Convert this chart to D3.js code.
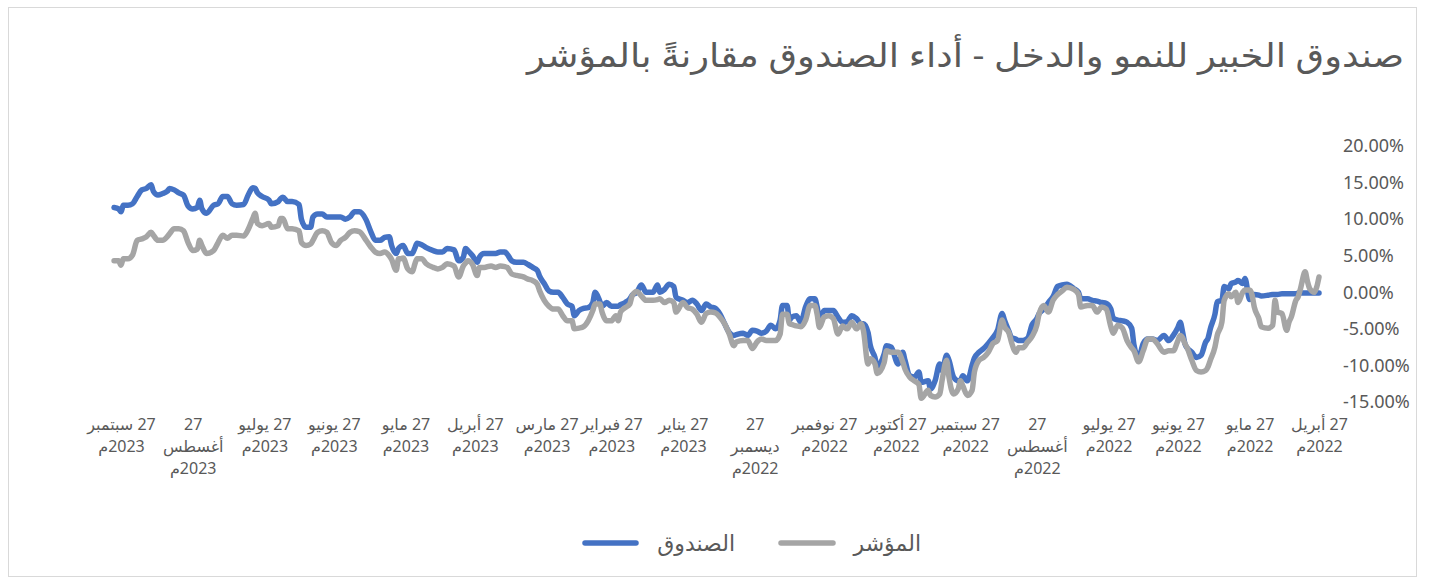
<!DOCTYPE html>
<html>
<head>
<meta charset="utf-8">
<script src="https://cdn.jsdelivr.net/npm/d3@7"></script>
<style>
  body { margin: 0; background: #fff; }
  text { font-family: "Noto Sans", "DejaVu Sans", sans-serif; fill: #595959; }
</style>
</head>
<body>
<div id="chart"></div>
<script>
// title and series names
var title = "صندوق الخبير للنمو والدخل - أداء الصندوق مقارنةً بالمؤشر";
var fundName = "الصندوق";
var indexName = "المؤشر";

// dates of the readings
var dates = [
  "2022-04-27","2022-04-28","2022-04-29","2022-05-01","2022-05-02","2022-05-03","2022-05-05","2022-05-06","2022-05-07","2022-05-09",
  "2022-05-10","2022-05-11","2022-05-13","2022-05-15","2022-05-16","2022-05-17","2022-05-19","2022-05-22","2022-05-23","2022-05-25",
  "2022-05-26","2022-05-27","2022-05-29","2022-05-30","2022-06-01","2022-06-02","2022-06-04","2022-06-05","2022-06-07","2022-06-08",
  "2022-06-10","2022-06-11","2022-06-13","2022-06-14","2022-06-15","2022-06-17","2022-06-19","2022-06-21","2022-06-23","2022-06-24",
  "2022-06-25","2022-06-26","2022-06-27","2022-06-29","2022-07-01","2022-07-03","2022-07-06","2022-07-08","2022-07-10","2022-07-12",
  "2022-07-14","2022-07-16","2022-07-17","2022-07-19","2022-07-21","2022-07-23","2022-07-25","2022-07-26","2022-07-28","2022-07-30",
  "2022-08-01","2022-08-03","2022-08-05","2022-08-08","2022-08-09","2022-08-11","2022-08-14","2022-08-16","2022-08-18","2022-08-20",
  "2022-08-22","2022-08-24","2022-08-26","2022-08-27","2022-08-29","2022-08-31","2022-09-02","2022-09-04","2022-09-05","2022-09-07",
  "2022-09-08","2022-09-10","2022-09-11","2022-09-13","2022-09-15","2022-09-17","2022-09-19","2022-09-21","2022-09-23","2022-09-24",
  "2022-09-26","2022-09-28","2022-09-29","2022-09-30","2022-10-02","2022-10-04","2022-10-05","2022-10-07","2022-10-08","2022-10-10",
  "2022-10-12","2022-10-13","2022-10-16","2022-10-17","2022-10-19","2022-10-21","2022-10-23","2022-10-24","2022-10-26","2022-10-29",
  "2022-10-31","2022-11-01","2022-11-04","2022-11-05","2022-11-07","2022-11-08","2022-11-10","2022-11-11","2022-11-13","2022-11-15",
  "2022-11-17","2022-11-19","2022-11-21","2022-11-23","2022-11-25","2022-11-27","2022-11-29","2022-11-30","2022-12-01","2022-12-03",
  "2022-12-05","2022-12-07","2022-12-09","2022-12-11","2022-12-12","2022-12-13","2022-12-15","2022-12-16","2022-12-18","2022-12-20",
  "2022-12-22","2022-12-24","2022-12-26","2022-12-28","2022-12-30","2023-01-01","2023-01-04","2023-01-05","2023-01-07","2023-01-09",
  "2023-01-11","2023-01-13","2023-01-15","2023-01-17","2023-01-19","2023-01-21","2023-01-23","2023-01-25","2023-01-27","2023-01-30",
  "2023-01-31","2023-02-02","2023-02-04","2023-02-06","2023-02-07","2023-02-09","2023-02-12","2023-02-14","2023-02-16","2023-02-18",
  "2023-02-19","2023-02-21","2023-02-23","2023-02-24","2023-02-25","2023-02-27","2023-03-01","2023-03-03","2023-03-04","2023-03-06",
  "2023-03-07","2023-03-09","2023-03-11","2023-03-13","2023-03-15","2023-03-16","2023-03-18","2023-03-20","2023-03-22","2023-03-24",
  "2023-03-26","2023-03-28","2023-03-30","2023-03-31","2023-04-02","2023-04-04","2023-04-06","2023-04-09","2023-04-11","2023-04-13",
  "2023-04-14","2023-04-16","2023-04-18","2023-04-20","2023-04-23","2023-04-25","2023-04-26","2023-04-28","2023-04-30","2023-05-01",
  "2023-05-02","2023-05-04","2023-05-06","2023-05-09","2023-05-11","2023-05-13","2023-05-15","2023-05-18","2023-05-20","2023-05-22",
  "2023-05-23","2023-05-24","2023-05-26","2023-05-28","2023-05-29","2023-05-30","2023-05-31","2023-06-02","2023-06-03","2023-06-05",
  "2023-06-07","2023-06-09","2023-06-11","2023-06-13","2023-06-16","2023-06-18","2023-06-20","2023-06-22","2023-06-24","2023-06-26",
  "2023-06-28","2023-06-30","2023-07-02","2023-07-04","2023-07-06","2023-07-07","2023-07-09","2023-07-11","2023-07-12","2023-07-15",
  "2023-07-17","2023-07-19","2023-07-20","2023-07-21","2023-07-24","2023-07-25","2023-07-28","2023-07-30","2023-07-31","2023-08-01",
  "2023-08-03","2023-08-05","2023-08-08","2023-08-10","2023-08-12","2023-08-14","2023-08-16","2023-08-18","2023-08-21","2023-08-23",
  "2023-08-24","2023-08-25","2023-08-27","2023-08-29","2023-08-31","2023-09-02","2023-09-04","2023-09-06","2023-09-07","2023-09-09",
  "2023-09-11","2023-09-13","2023-09-14","2023-09-16","2023-09-18","2023-09-20","2023-09-22","2023-09-24","2023-09-26","2023-09-27",
  "2023-09-28","2023-09-30"
];

// fund cumulative return, %
var fund = [
  -0.1,-0.1,-0.1,-0.1,-0.1,-0.1,-0.1,-0.1,-0.2,-0.2,
  -0.2,-0.2,-0.2,-0.3,-0.3,-0.3,-0.4,-0.5,-0.4,-0.3,
  -0.5,-1.0,1.9,1.2,1.6,1.4,1.2,0.5,0.8,-1.1,
  -1.3,-3.0,-5.0,-6.3,-6.8,-8.6,-8.9,-8.2,-7.6,-7.0,
  -5.4,-4.1,-4.8,-5.9,-6.6,-5.9,-6.6,-6.4,-6.4,-7.0,
  -8.9,-7.2,-4.9,-4.1,-3.9,-3.8,-3.5,-2.3,-1.5,-1.4,
  -1.2,-1.1,-0.9,-0.9,0.0,0.5,1.1,1.0,0.8,-0.6,
  -1.4,-2.3,-2.9,-3.6,-4.4,-6.3,-6.6,-6.6,-6.4,-6.2,
  -5.4,-3.8,-2.9,-5.2,-6.2,-7.0,-7.7,-8.2,-9.0,-10.0,
  -12.1,-11.4,-12.0,-12.1,-11.6,-9.3,-8.6,-10.7,-9.8,-12.1,
  -13.2,-12.1,-12.3,-10.9,-11.6,-11.4,-9.3,-8.2,-9.8,-7.5,
  -7.3,-8.4,-10.2,-8.9,-7.3,-5.5,-4.3,-4.3,-3.6,-3.2,
  -4.0,-4.1,-3.4,-2.5,-2.5,-2.5,-3.8,-2.0,-0.9,-0.9,
  -2.0,-4.1,-3.2,-3.4,-3.8,-1.8,-1.8,-3.8,-5.0,-4.5,
  -5.3,-5.6,-5.3,-5.2,-5.9,-5.6,-5.8,-5.9,-5.5,-4.3,
  -3.0,-2.2,-2.0,-1.6,-2.5,-1.6,-1.1,-1.4,-1.1,-0.7,
  0.8,1.1,0.4,0.0,1.0,0.0,0.0,1.0,0.0,-0.4,
  -0.9,-1.4,-1.7,-1.9,-1.9,-1.9,-1.4,-1.9,-1.2,0.0,
  -1.4,-2.1,-2.2,-2.5,-3.2,-1.9,-1.6,-0.7,0.0,0.0,
  0.2,1.2,2.2,3.0,3.4,3.8,4.1,4.1,4.3,5.2,
  5.5,5.5,5.3,5.3,5.3,4.8,4.1,5.0,5.7,6.0,
  4.8,4.3,5.8,6.0,5.5,5.5,5.7,6.1,6.5,6.7,
  6.0,5.3,5.3,6.4,6.3,6.0,5.3,6.4,7.6,7.5,
  7.1,7.1,8.3,9.9,11.0,11.0,10.3,10.0,10.3,10.3,
  10.3,10.3,10.7,10.7,10.3,8.9,8.9,10.0,12.0,12.4,
  12.4,13.0,12.8,12.4,12.1,12.6,13.1,13.6,14.2,14.3,
  13.3,12.0,11.9,12.1,13.1,13.1,12.1,11.9,10.8,11.4,
  12.6,11.6,11.4,11.8,13.3,13.6,14.0,14.2,13.8,13.5,
  13.3,13.8,14.7,14.2,14.0,13.1,12.1,11.9,11.9,11.0,
  11.4,11.6
];

// index cumulative return, %
var index = [
  2.1,0.7,0.0,0.5,1.5,2.8,0.5,-0.6,-1.1,-3.4,
  -4.1,-5.2,-2.9,-2.7,-1.1,-4.5,-4.9,-4.7,-3.6,-2.0,
  -0.3,0.3,0.3,0.0,-1.4,0.0,-0.6,-0.2,-1.1,-4.1,
  -5.9,-7.5,-9.3,-10.2,-10.7,-10.9,-10.7,-9.3,-7.6,-7.0,
  -6.2,-5.9,-6.6,-8.0,-8.0,-8.2,-7.0,-6.4,-6.4,-8.0,
  -9.5,-8.0,-7.6,-6.6,-4.9,-4.5,-5.6,-4.7,-2.3,-2.0,
  -2.7,-1.8,-1.8,-2.0,-0.3,0.4,0.7,0.2,-0.3,-1.1,
  -2.7,-1.8,-2.9,-4.5,-6.0,-6.8,-7.6,-7.6,-8.2,-6.8,
  -5.6,-4.7,-3.8,-6.6,-7.0,-8.2,-8.9,-9.3,-10.9,-13.4,
  -14.1,-12.8,-12.1,-13.2,-13.9,-11.6,-9.3,-12.1,-13.9,-14.3,
  -14.1,-13.4,-14.5,-12.6,-12.1,-11.6,-10.5,-9.5,-8.2,-8.2,
  -8.0,-9.6,-11.1,-9.8,-9.1,-9.8,-5.2,-4.3,-5.0,-4.1,
  -5.0,-4.6,-5.7,-3.6,-3.2,-3.4,-4.8,-3.0,-1.8,-1.8,
  -3.8,-4.7,-4.6,-4.4,-4.3,-3.0,-3.0,-5.7,-6.6,-6.6,
  -6.6,-6.4,-6.8,-7.7,-6.6,-6.6,-6.8,-7.3,-5.7,-4.3,
  -3.4,-2.8,-2.7,-2.9,-4.1,-3.0,-2.3,-2.1,-1.4,-2.7,
  -1.4,-1.1,-1.4,-0.9,-1.0,-1.1,-1.1,-0.5,0.1,-0.5,
  -1.6,-2.1,-2.7,-3.9,-3.2,-3.9,-3.9,-2.7,-1.6,-1.6,
  -2.5,-3.9,-4.7,-4.9,-5.0,-3.9,-3.9,-3.2,-2.3,-2.3,
  -1.9,-1.1,0.2,1.1,1.6,1.8,2.1,2.3,2.5,3.4,
  3.5,3.6,3.4,3.6,3.4,3.4,2.3,3.8,4.3,4.0,
  3.6,2.1,3.6,3.9,3.4,3.2,3.4,3.9,4.6,4.6,
  3.8,2.8,3.2,4.7,4.6,4.6,3.0,4.5,5.0,5.5,
  5.3,5.5,6.2,7.1,8.3,8.4,8.2,7.5,7.1,6.4,
  6.8,8.2,8.4,8.2,7.1,6.6,6.4,6.8,8.4,8.7,
  8.7,10.1,10.1,9.1,8.9,9.4,9.1,9.4,10.8,10.1,
  8.6,7.7,7.8,7.8,7.4,7.8,6.8,5.7,5.3,6.4,
  7.1,5.9,5.7,6.8,8.4,8.7,8.7,8.0,7.6,7.1,
  7.1,7.8,8.2,7.6,7.3,7.1,5.1,4.6,4.6,3.7,
  4.3,4.3
];

// axis ticks
var yTicks = [-15, -10, -5, 0, 5, 10, 15, 20];
var tickDates = [
  "2022-04-27","2022-05-27","2022-06-27","2022-07-27","2022-08-27","2022-09-27",
  "2022-10-27","2022-11-27","2022-12-27","2023-01-27","2023-02-27","2023-03-27",
  "2023-04-27","2023-05-27","2023-06-27","2023-07-27","2023-08-27","2023-09-27"
];
var tickLabels = [
  ["27 أبريل", "2022م"], ["27 مايو", "2022م"], ["27 يونيو", "2022م"], ["27 يوليو", "2022م"],
  ["27", "أغسطس", "2022م"], ["27 سبتمبر", "2022م"], ["27 أكتوبر", "2022م"], ["27 نوفمبر", "2022م"],
  ["27", "ديسمبر", "2022م"], ["27 يناير", "2023م"], ["27 فبراير", "2023م"], ["27 مارس", "2023م"],
  ["27 أبريل", "2023م"], ["27 مايو", "2023م"], ["27 يونيو", "2023م"], ["27 يوليو", "2023م"],
  ["27", "أغسطس", "2023م"], ["27 سبتمبر", "2023م"]
];

var width = 1437, height = 579;
var parseDate = d3.timeParse("%Y-%m-%d");

var rows = dates.map(function (d, i) {
  return { date: parseDate(d), fund: fund[i], index: index[i] };
});

var svg = d3.select("#chart").append("svg")
  .attr("width", width)
  .attr("height", height);

// chart frame
svg.append("rect")
  .attr("x", 8.5).attr("y", 7.5)
  .attr("width", 1408).attr("height", 569)
  .attr("fill", "#fff")
  .attr("stroke", "#d9d9d9");

// title
svg.append("text")
  .attr("x", 1404).attr("y", 67)
  .attr("text-anchor", "end")
  .attr("textLength", 877)
  .attr("lengthAdjust", "spacingAndGlyphs")
  .style("font-size", "33px")
  .text(title);

// scales (time runs right to left)
var x = d3.scaleTime()
  .domain([parseDate("2022-04-27"), parseDate("2023-09-27")])
  .range([1319, 121]);
var y = d3.scaleLinear().domain([-15, 20]).range([402, 146]);

// y axis on the right, labels left-aligned
var yAxis = svg.append("g")
  .attr("transform", "translate(1343,0)")
  .call(d3.axisRight(y).tickValues(yTicks).tickSize(0).tickPadding(0)
    .tickFormat(function (d) { return d.toFixed(2) + "%"; }));
yAxis.select(".domain").remove();
yAxis.selectAll("text")
  .style("font-family", "'Noto Sans', 'DejaVu Sans', sans-serif")
  .style("font-size", "18px")
  .attr("fill", "#595959");

// x axis labels
var xAxis = svg.append("g")
  .attr("transform", "translate(0,410)")
  .call(d3.axisBottom(x).tickValues(tickDates.map(parseDate)).tickSize(0).tickFormat(""));
xAxis.select(".domain").remove();
xAxis.selectAll(".tick").each(function (d, i) {
  var t = d3.select(this).append("text")
    .attr("direction", "rtl")
    .attr("text-anchor", "middle")
    .style("font-size", "16px")
    .attr("fill", "#595959");
  tickLabels[i].forEach(function (line, j) {
    t.append("tspan")
      .attr("x", 0)
      .attr("y", 20 + j * 22)
      .text(line);
  });
});

// lines
var fundLine = d3.line()
  .x(function (d) { return x(d.date); })
  .y(function (d) { return y(d.fund); })
  .curve(d3.curveMonotoneX);
var indexLine = d3.line()
  .x(function (d) { return x(d.date); })
  .y(function (d) { return y(d.index); })
  .curve(d3.curveMonotoneX);

svg.append("path")
  .datum(rows)
  .attr("fill", "none")
  .attr("stroke", "#4472c4")
  .attr("stroke-width", 5.5)
  .attr("stroke-linejoin", "round")
  .attr("stroke-linecap", "round")
  .attr("d", fundLine);

svg.append("path")
  .datum(rows)
  .attr("fill", "none")
  .attr("stroke", "#a5a5a5")
  .attr("stroke-width", 5.5)
  .attr("stroke-linejoin", "round")
  .attr("stroke-linecap", "round")
  .attr("d", indexLine);

// legend
var legend = [
  { name: fundName, color: "#4472c4", x1: 585, x2: 636, tx: 735 },
  { name: indexName, color: "#a5a5a5", x1: 781, x2: 833, tx: 921 }
];
legend.forEach(function (l) {
  svg.append("line")
    .attr("x1", l.x1).attr("x2", l.x2)
    .attr("y1", 543).attr("y2", 543)
    .attr("stroke", l.color)
    .attr("stroke-width", 5.5)
    .attr("stroke-linecap", "round");
  svg.append("text")
    .attr("x", l.tx).attr("y", 551)
    .attr("text-anchor", "end")
    .style("font-size", "22px")
    .text(l.name);
});
</script>
</body>
</html>
